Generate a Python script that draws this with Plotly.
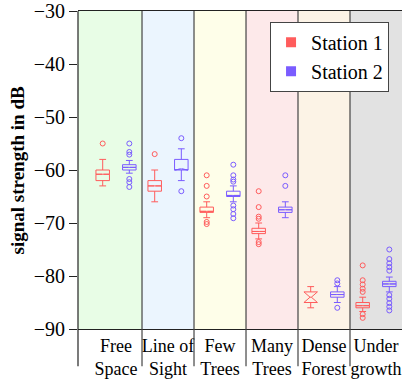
import plotly.graph_objects as go

categories = ["Free<br>Space", "Line of<br>Sight", "Few<br>Trees", "Many<br>Trees", "Dense<br>Forest", "Under<br>growth"]
band_colors = ["#e8fde6", "#ebf5fe", "#fefee9", "#fde9ea", "#fcf3e6", "#e2e2e2"]

s1_name = "Station 1"
s1_q1 = [-62, -64, -68, -72, -85, -86]
s1_median = [-60.8, -63, -67.8, -71.6, -84, -85.6]
s1_q3 = [-60, -62, -67, -71, -83, -85]
s1_low = [-63, -66, -69, -73, -86, -86.7]
s1_up = [-58, -60, -66, -70, -82, -84]
s1_notch = [0, 0, 0, 0, 1, 0]
s1_outliers = [[-55], [-57], [-61, -63, -65, -69.8, -70.2],
               [-64, -67, -68.8, -69.2, -73.6, -74], [],
               [-78, -80.8, -81.6, -82.4, -83, -87.2, -87.9]]

s2_name = "Station 2"
s2_q1 = [-60, -60, -65, -68, -84, -82]
s2_median = [-59.5, -60, -64.8, -67.5, -83.5, -81.5]
s2_q3 = [-59, -58, -64, -67, -83, -81]
s2_low = [-60.6, -62, -66, -69, -85, -83]
s2_up = [-58.2, -56, -63, -66, -82, -80.2]
s2_notch = [0, 0, 0, 0, 0, 0]
s2_outliers = [[-55, -56.6, -57.1, -61.7, -62.3, -63.2], [-54, -64],
               [-59, -61, -61.8, -62.2, -66.7, -67.4, -68.3, -69.1],
               [-61, -63], [-80.8, -81.4, -86],
               [-75, -76.8, -77.6, -78.3, -79, -83.6, -84.3, -85.1, -85.8, -86.5]]

y_ticks = [-30, -40, -50, -60, -70, -80, -90]

RED = "#ff5c5c"
BLUE = "#7a5cff"
FONT = "Liberation Serif, Times New Roman, serif"
XMIN, XMAX = -0.731, 5.5
OFF = 0.256

fig = go.Figure()
series = [
    (s1_name, RED, -OFF, s1_q1, s1_median, s1_q3, s1_low, s1_up, s1_notch, s1_outliers),
    (s2_name, BLUE, OFF, s2_q1, s2_median, s2_q3, s2_low, s2_up, s2_notch, s2_outliers),
]
for name, col, off, q1, med, q3, lo, up, notch, outl in series:
    pos = [i + off for i in range(len(categories))]
    fig.add_trace(go.Box(
        x=pos, q1=q1, median=med, q3=q3, lowerfence=lo, upperfence=up,
        notched=True, notchspan=notch, notchwidth=0.45,
        width=0.26, whiskerwidth=0.5, boxpoints=False,
        line=dict(color=col, width=1), fillcolor="rgba(0,0,0,0)",
        showlegend=False, hoverinfo="skip"))
    ox, oy = [], []
    for i, vals in enumerate(outl):
        for v in vals:
            ox.append(i + off)
            oy.append(v)
    fig.add_trace(go.Scatter(
        x=ox, y=oy, mode="markers", showlegend=False, hoverinfo="skip",
        marker=dict(symbol="circle-open", size=5, color=col, line=dict(width=1, color=col))))

for name, col in [(s1_name, RED), (s2_name, BLUE)]:
    fig.add_trace(go.Scatter(x=[None], y=[None], mode="markers", name=name,
                             marker=dict(symbol="square", size=10, color=col)))

shapes = []
for i, c in enumerate(band_colors):
    x0 = XMIN if i == 0 else i - 0.5
    x1 = XMAX if i == len(band_colors) - 1 else i + 0.5
    shapes.append(dict(type="rect", xref="x", yref="paper", x0=x0, x1=x1, y0=0, y1=1,
                       fillcolor=c, line=dict(width=0), layer="below"))
for i in range(len(categories) - 1):
    shapes.append(dict(type="line", xref="x", yref="paper", x0=i + 0.5, x1=i + 0.5,
                       y0=-0.117, y1=1, line=dict(color="#444", width=1.2), layer="above"))
shapes.append(dict(type="line", xref="paper", yref="paper", x0=0, x1=0, y0=-0.117, y1=1,
                   line=dict(color="#222", width=1.2), layer="above"))

fig.update_layout(
    width=402, height=379,
    margin=dict(l=78, r=0, t=7, b=47),
    paper_bgcolor="white", plot_bgcolor="white",
    font=dict(family=FONT, size=18, color="black"),
    shapes=shapes,
    xaxis=dict(range=[XMIN, XMAX], tickvals=list(range(len(categories))), ticktext=categories,
               showgrid=False, zeroline=False, showline=True, linecolor="#222", linewidth=1.2,
               mirror=True, ticks="", tickfont=dict(family=FONT, size=18)),
    yaxis=dict(range=[-90, -30], tickvals=y_ticks, showgrid=False, zeroline=False,
               showline=False, ticks="outside", ticklen=8, tickcolor="#222", tickwidth=1.2,
               ticklabeloverflow="allow", tickfont=dict(family=FONT, size=20)),
    legend=dict(x=0.96, y=0.966, xanchor="right", yanchor="top", bgcolor="white",
                bordercolor="#444", borderwidth=1, font=dict(family=FONT, size=20)),
    annotations=[dict(text="<b>signal strength in dB</b>", textangle=-90, xref="paper", yref="paper",
                      x=-0.187, y=0.5, xanchor="center", yanchor="middle", showarrow=False,
                      font=dict(family=FONT, size=19))],
)

fig.write_html("out.html")
